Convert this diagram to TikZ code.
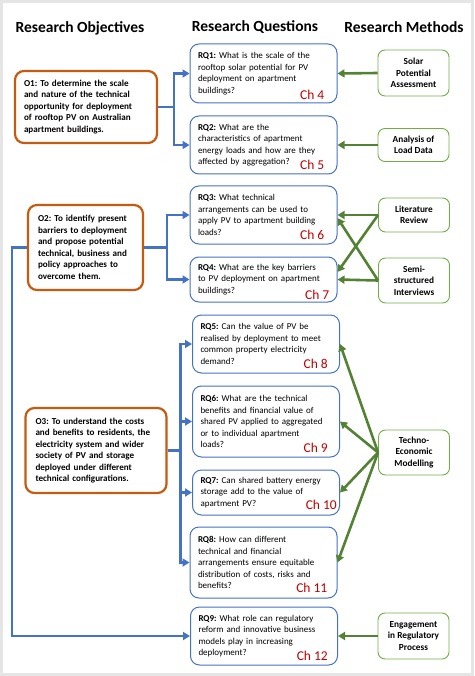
\documentclass[tikz,border=0pt]{standalone}
\usepackage{fontspec}
\setmainfont{Carlito}
\usetikzlibrary{arrows.meta}
\definecolor{qblue}{HTML}{4472C4}
\definecolor{oorange}{HTML}{C55A11}
\definecolor{mgreen}{HTML}{70AD47}
\definecolor{agreen}{HTML}{548235}
\definecolor{chred}{HTML}{C00000}
\frenchspacing

\begin{document}
\begin{tikzpicture}[x=1pt,y=-1pt,
    objbox/.style={draw=oorange,line width=2.2pt,rounded corners=9pt,align=left,inner xsep=9pt,
      font=\fontsize{9.1}{11.5}\selectfont\bfseries},
    qbox/.style={draw=qblue,line width=1pt,rounded corners=9pt,align=left,text width=131pt,
      inner xsep=8pt,font=\fontsize{9}{11.5}\selectfont},
    mbox/.style={draw=mgreen,line width=0.9pt,rounded corners=7pt,align=center,minimum width=71pt,
      font=\fontsize{9.3}{11.5}\selectfont\bfseries},
    chap/.style={anchor=base east,text=chred,inner sep=0pt,font=\fontsize{13.5}{14}\selectfont},
    head/.style={font=\fontsize{15.5}{18}\selectfont\bfseries},
    toq/.style={draw=qblue,line width=2.6pt,-{Triangle[length=7pt,width=8pt]}},
    tom/.style={draw=agreen,line width=2.6pt,-{Triangle[length=7pt,width=8pt]}}]
    \useasboundingbox (0,0) rectangle (474,676);
    \draw[gray!20,line width=3pt] (1.5,1.5) rectangle (472.5,674.5);

    % column headings
    \node[head] (hO) at (80,28) {Research Objectives};
    \node[head] (hQ) at (255,27) {Research Questions};
    \node[head] (hM) at (404,27) {Research Methods};

    % objectives
    \node[objbox,text width=124pt,minimum height=72pt] (O1) at (86,107)
        {O1: To determine the scale\\and nature of the technical\\opportunity for deployment\\of rooftop PV on Australian\\apartment buildings.};
    \node[objbox,text width=95pt,inner xsep=10pt,minimum height=85pt] (O2) at (85.5,247.5)
        {O2: To identify present\\barriers to deployment\\and propose potential\\technical, business and\\policy approaches to\\overcome them.};
    \node[objbox,text width=121pt,inner xsep=10pt,minimum height=85pt] (O3) at (96,450.5)
        {O3: To understand the costs\\and benefits to residents, the\\electricity system and wider\\society of PV and storage\\deployed under different\\technical configurations.};

    % research questions
    \node[qbox,minimum height=59pt] (RQ1) at (263.5,73.5)
        {\textbf{RQ1:} What is the scale of the\\rooftop solar potential for PV\\deployment on apartment\\buildings?};
    \node[qbox,minimum height=58pt] (RQ2) at (263.5,145)
        {\textbf{RQ2:} What are the\\characteristics of apartment\\energy loads and how are they\\affected by aggregation?};
    \node[qbox,minimum height=58pt] (RQ3) at (263.5,215)
        {\textbf{RQ3:} What technical\\arrangements can be used to\\apply PV to apartment building\\loads?};
    \node[qbox,minimum height=45pt] (RQ4) at (263.5,279.5)
        {\textbf{RQ4:} What are the key barriers\\to PV deployment on apartment\\buildings?};
    \node[qbox,minimum height=58pt] (RQ5) at (266,344)
        {\textbf{RQ5:} Can the value of PV be\\realised by deployment to meet\\common property electricity\\demand?};
    \node[qbox,minimum height=71pt] (RQ6) at (266,421.5)
        {\textbf{RQ6:} What are the technical\\benefits and financial value of\\shared PV applied to aggregated\\or to individual apartment\\loads?};
    \node[qbox,minimum height=45pt] (RQ7) at (266,492.5)
        {\textbf{RQ7:} Can shared battery energy\\storage add to the value of\\apartment PV?};
    \node[qbox,minimum height=71pt] (RQ8) at (263.5,562.5)
        {\textbf{RQ8:} How can different\\technical and financial\\arrangements ensure equitable\\distribution of costs, risks and\\benefits?};
    \node[qbox,minimum height=58pt] (RQ9) at (264,636)
        {\textbf{RQ9:} What role can regulatory\\reform and innovative business\\models play in increasing\\deployment?};

    % chapters
    \node[chap] (ch4) at ([xshift=-13pt,yshift=4pt]RQ1.south east) {Ch 4};
    \node[chap] (ch5) at ([xshift=-13pt,yshift=5pt]RQ2.south east) {Ch 5};
    \node[chap] (ch6) at ([xshift=-13pt,yshift=5pt]RQ3.south east) {Ch 6};
    \node[chap] (ch7) at ([xshift=-8pt,yshift=3pt]RQ4.south east) {Ch 7};
    \node[chap] (ch8) at ([xshift=-12pt,yshift=5pt]RQ5.south east) {Ch 8};
    \node[chap] (ch9) at ([xshift=-12pt,yshift=5pt]RQ6.south east) {Ch 9};
    \node[chap] (ch10) at ([xshift=-3pt,yshift=6pt]RQ7.south east) {Ch 10};
    \node[chap] (ch11) at ([xshift=-10pt,yshift=6pt]RQ8.south east) {Ch 11};
    \node[chap] (ch12) at ([xshift=-10pt,yshift=5pt]RQ9.south east) {Ch 12};

    % research methods
    \node[mbox,minimum height=46pt] (SPA) at (413.5,73) {Solar\\Potential\\Assessment};
    \node[mbox,minimum height=33pt] (ALD) at (413.5,145) {Analysis of\\Load Data};
    \node[mbox,minimum height=34pt] (LIT) at (414,215) {Literature\\Review};
    \node[mbox,minimum height=45pt] (SSI) at (414,280.5) {Semi-\\structured\\Interviews};
    \node[mbox,minimum height=45pt] (TEM) at (414,452.5) {Techno-\\Economic\\Modelling};
    \node[mbox,minimum height=46pt] (ERP) at (413.5,636) {Engagement\\in Regulatory\\Process};

    % objectives to questions
    \draw[toq] (O1.east) -- ++(16,0) |- (RQ1.west);
    \draw[toq] (O1.east) -- ++(16,0) |- (RQ2.west);
    \draw[toq] (O2.east) -- ++(23,0) |- (RQ3.west);
    \draw[toq] (O2.east) -- ++(23,0) |- (RQ4.west);
    \draw[toq] (O2.west) -- ++(-15,0) |- (RQ9.west);
    \draw[toq] (O3.east) -- ++(13,0) |- (RQ5.west);
    \draw[toq] (O3.east) -- ++(13,0) |- (RQ6.west);
    \draw[toq] (O3.east) -- ++(13,0) |- (RQ7.west);
    \draw[toq] (O3.east) -- ++(13,0) |- (RQ8.west);

    % methods to questions
    \draw[tom] (SPA.west) -- (RQ1.east);
    \draw[tom] (ALD.west) -- (RQ2.east);
    \draw[tom] (LIT.west) -- (RQ3.east);
    \draw[tom] (LIT.west) -- ([yshift=7.5pt]RQ4.east);
    \draw[tom] (SSI.west) -- (RQ4.east);
    \draw[tom] (SSI.west) -- ([yshift=-3pt]RQ3.east);
    \draw[tom] (TEM.west) -- (RQ5.east);
    \draw[tom] (TEM.west) -- (RQ6.east);
    \draw[tom] (TEM.west) -- (RQ7.east);
    \draw[tom] (TEM.west) -- (RQ8.east);
    \draw[tom] (ERP.west) -- (RQ9.east);
\end{tikzpicture}
\end{document}
